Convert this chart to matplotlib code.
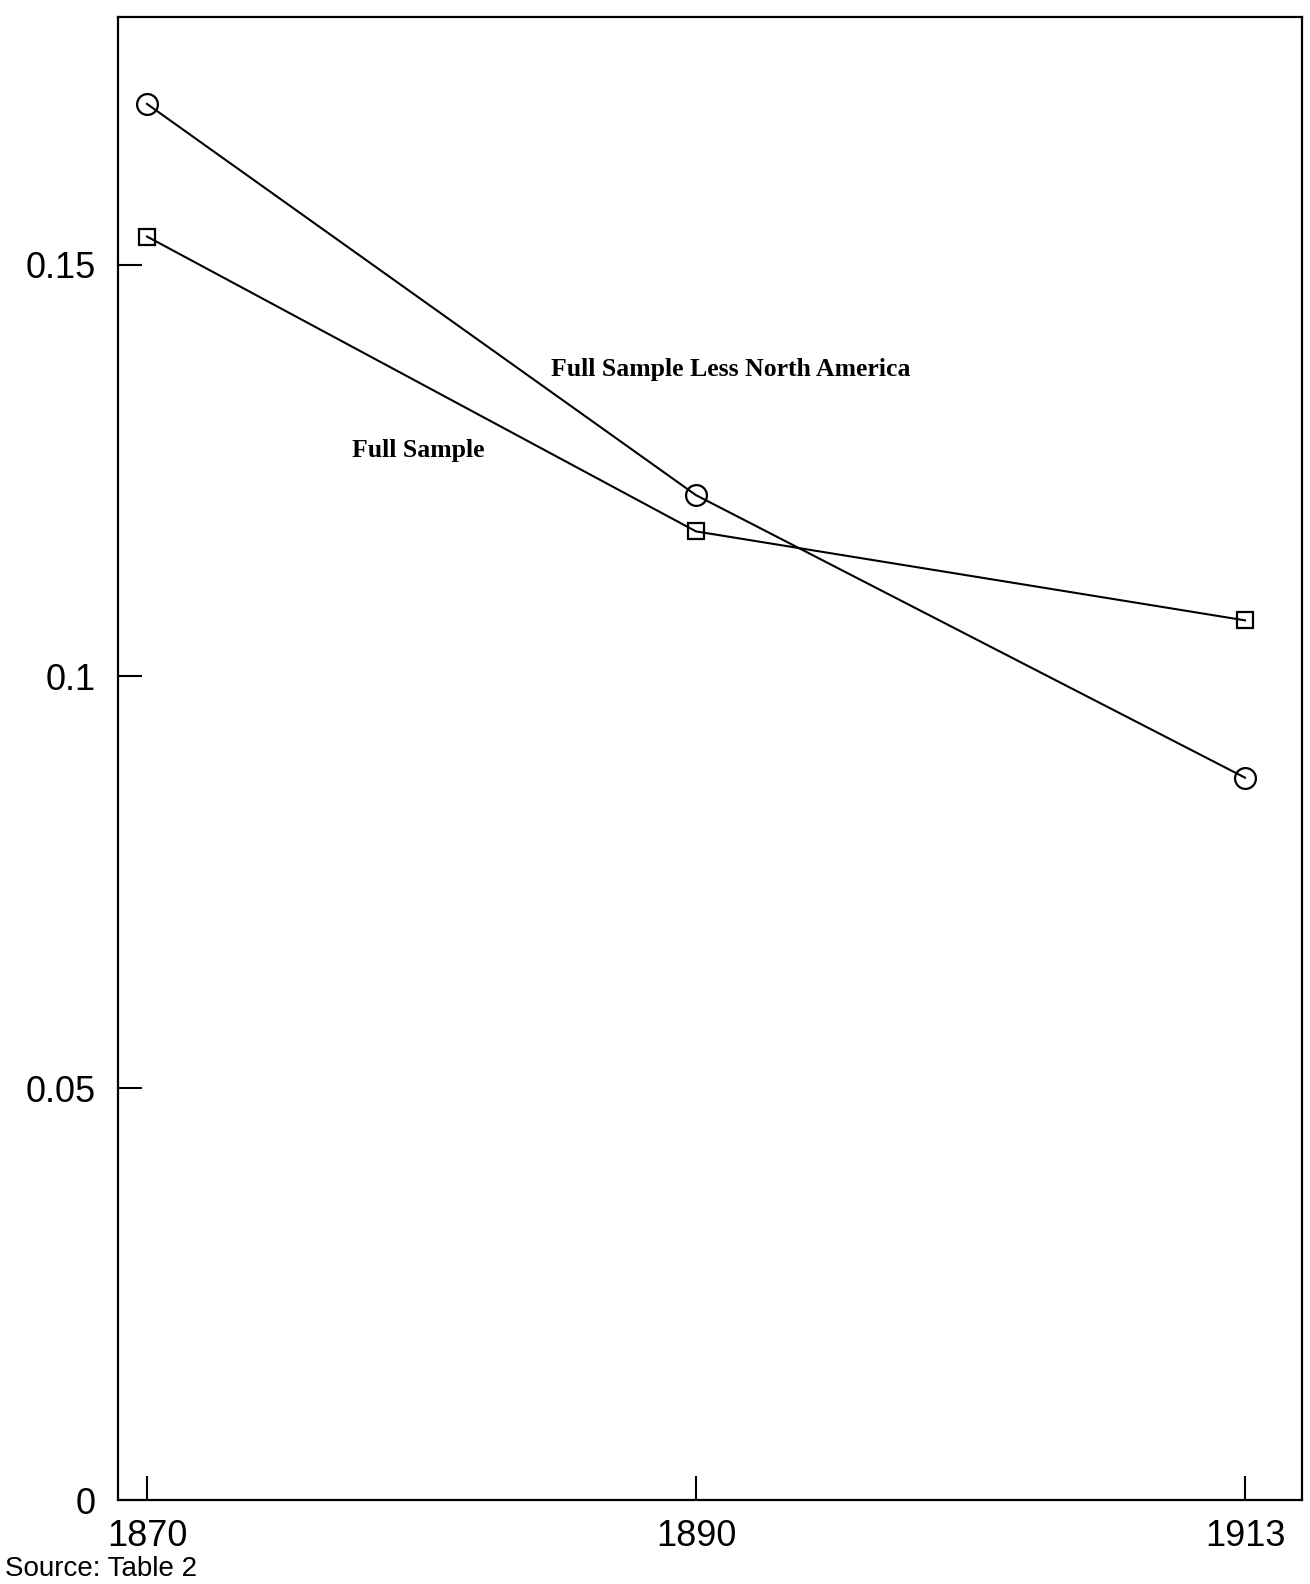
import matplotlib
matplotlib.use('Agg')
import matplotlib.pyplot as plt

years = ['1870', '1890', '1913']
full_sample = [0.1534, 0.1176, 0.1068]
less_north_america = [0.1695, 0.1220, 0.0877]

fig = plt.figure(figsize=(13.1, 15.84), dpi=100)
ax = fig.add_axes([0.090, 0.053, 0.904, 0.936])

x = range(len(years))
ax.plot(x, less_north_america, color='black', lw=1.5, marker='o', ms=15,
        mfc='none', mew=1.6)
ax.plot(x, full_sample, color='black', lw=1.5, marker='s', ms=12,
        mfc='none', mew=1.6)

ax.text(0.736, 0.1373, 'Full Sample Less North America', family='Liberation Serif',
        fontsize=18.5, fontweight='bold', va='center', ha='left')
ax.text(0.373, 0.1274, 'Full Sample', family='Liberation Serif',
        fontsize=18.5, fontweight='bold', va='center', ha='left')

ax.set_xlim(-0.053, 2.104)
ax.set_ylim(0, 0.18)
ax.set_xticks(list(x))
ax.set_xticklabels(years)
ax.set_yticks([0, 0.05, 0.1, 0.15])
ax.set_yticklabels(['0', '0.05', '0.1', '0.15'])
ax.tick_params(direction='in', length=17, width=1.5, labelsize=26)
ax.tick_params(axis='y', pad=16)
ax.tick_params(axis='x', pad=14)
for lab in ax.get_xticklabels() + ax.get_yticklabels():
    lab.set_family('Liberation Sans')
for s in ax.spines.values():
    s.set_linewidth(1.6)

fig.text(0.004, 0.001, 'Source: Table 2', family='Liberation Sans', fontsize=20,
         va='bottom', ha='left')

fig.savefig('out.png', dpi=100)
